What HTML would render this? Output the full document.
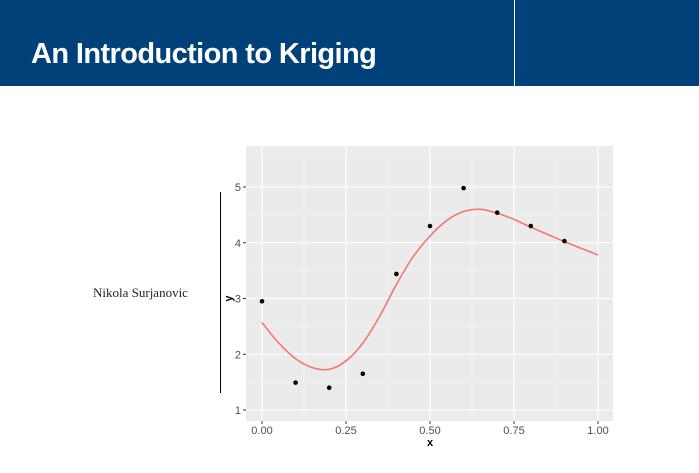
<!DOCTYPE html>
<html><head><meta charset="utf-8"><style>
body{margin:0;width:699px;height:473px;background:#fff;overflow:hidden;position:relative;font-family:"Liberation Sans",sans-serif}
#hdr{position:absolute;left:0;top:0;width:699px;height:86px;background:#00417a}
#div{position:absolute;left:514px;top:0;width:1px;height:86px;background:#fff}
#title{position:absolute;left:31px;top:38px;color:#fff;font-weight:bold;font-size:29px;letter-spacing:-0.6px}
#author{position:absolute;left:93px;top:285px;font-family:"Liberation Serif",serif;font-size:13px;color:#222}
#vline{position:absolute;left:220px;top:192px;width:1px;height:201px;background:#000}
</style></head><body>
<div id="hdr"></div>
<div id="div"></div>
<div id="title">An Introduction to Kriging</div>
<div id="author">Nikola Surjanovic</div>
<div id="vline"></div>
<svg id="chart" width="699" height="473" style="position:absolute;left:0;top:0"></svg>
<script>
const xTicks=[0,0.25,0.5,0.75,1];
const xTickLabels=["0.00","0.25","0.50","0.75","1.00"];
const yTicks=[1,2,3,4,5];
const obsX=[0,0.1,0.2,0.3,0.4,0.5,0.6,0.7,0.8,0.9];
const obsY=[2.95,1.49,1.4,1.65,3.44,4.3,4.98,4.54,4.3,4.03];
const fitX=[0,0.05,0.1,0.15,0.2,0.25,0.3,0.35,0.4,0.45,0.5,0.55,0.6,0.65,0.7,0.75,0.8,0.85,0.9,0.95,1];
const fitY=[2.57,2.2,1.92,1.76,1.73,1.88,2.2,2.68,3.25,3.75,4.12,4.4,4.56,4.6,4.53,4.42,4.28,4.15,4.02,3.9,3.78];
const NS="http://www.w3.org/2000/svg";
const svg=document.getElementById('chart');
const X=v=>262+v*336, Y=v=>410-(v-1)*55.75;
function mk(t,a,p){const e=document.createElementNS(NS,t);for(const k in a)e.setAttribute(k,a[k]);(p||svg).appendChild(e);return e;}
const panel=mk('rect',{x:246,y:146,width:367,height:275,fill:'#ebebeb'});


for(let i=0;i<xTicks.length-1;i++){const m=(xTicks[i]+xTicks[i+1])/2;mk('line',{x1:X(m),x2:X(m),y1:146,y2:421,stroke:'#f5f5f5','stroke-width':0.6});}
for(let i=0;i<yTicks.length-1;i++){const m=(yTicks[i]+yTicks[i+1])/2;mk('line',{x1:246,x2:613,y1:Y(m),y2:Y(m),stroke:'#f5f5f5','stroke-width':0.6});}
mk('line',{x1:246,x2:613,y1:Y(5.5),y2:Y(5.5),stroke:'#f5f5f5','stroke-width':0.6});
xTicks.forEach((t,i)=>{
 const g=mk('line',{x1:X(t),x2:X(t),y1:146,y2:421,stroke:'#fff','stroke-width':1});
 
 
 mk('line',{x1:X(t),x2:X(t),y1:421,y2:424,stroke:'#333'});
 const l=mk('text',{x:X(t),y:434,'text-anchor':'middle','font-size':11,fill:'#4d4d4d'});l.textContent=xTickLabels[i];
 
 
});
yTicks.forEach(t=>{
 const g=mk('line',{x1:246,x2:613,y1:Y(t),y2:Y(t),stroke:'#fff','stroke-width':1});
 
 
 mk('line',{x1:243,x2:246,y1:Y(t),y2:Y(t),stroke:'#333'});
 const l=mk('text',{x:241,y:Y(t)+4,'text-anchor':'end','font-size':11,fill:'#4d4d4d'});l.textContent=t;
 
 
});
let d='M'+X(fitX[0])+','+Y(fitY[0]);
for(let i=0;i<fitX.length-1;i++){
 const p0=[X(fitX[Math.max(i-1,0)]),Y(fitY[Math.max(i-1,0)])],p1=[X(fitX[i]),Y(fitY[i])],p2=[X(fitX[i+1]),Y(fitY[i+1])],p3=[X(fitX[Math.min(i+2,fitX.length-1)]),Y(fitY[Math.min(i+2,fitX.length-1)])];
 d+=` C${p1[0]+(p2[0]-p0[0])/6},${p1[1]+(p2[1]-p0[1])/6} ${p2[0]-(p3[0]-p1[0])/6},${p2[1]-(p3[1]-p1[1])/6} ${p2[0]},${p2[1]}`;
}
const line=mk('path',{d:d,fill:'none',stroke:'#f8766d','stroke-width':1.6});


obsX.forEach((x,i)=>{
 const c=mk('circle',{cx:X(x),cy:Y(obsY[i]),r:2.3,fill:'#000'});
 
 
});
const xt=mk('text',{x:X(0.5),y:446,'text-anchor':'middle','font-size':11,'font-weight':'bold',fill:'#000'});xt.textContent='x';


const yt=mk('text',{x:0,y:0,'text-anchor':'middle','font-size':11,'font-weight':'bold',fill:'#000',transform:`translate(232,${Y(3)}) rotate(-90)`});yt.textContent='y';


</script>
</body></html>
